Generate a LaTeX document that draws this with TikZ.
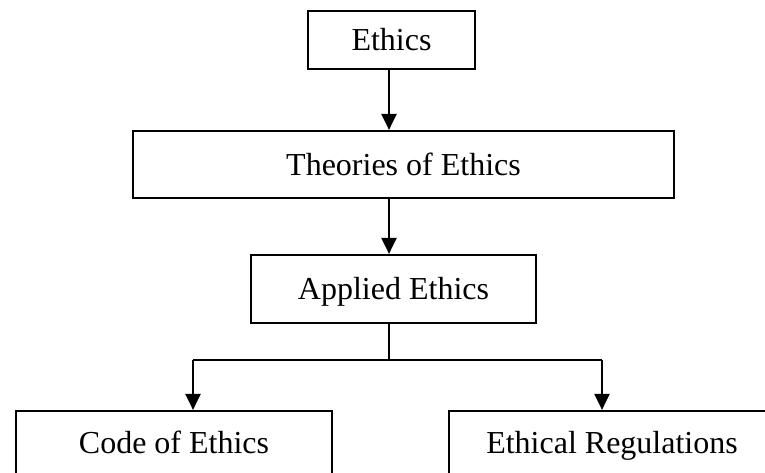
\documentclass[tikz,border=0pt]{standalone}
\usepackage{fontspec}
\setmainfont{Liberation Serif}
\usetikzlibrary{arrows.meta}
\tikzset{
  boxnode/.style={draw, line width=2.2pt, inner sep=0pt, text height=21.2pt, text depth=0pt, font=\fontsize{32}{38}\selectfont, text=black},
  arr/.style={line width=2.2pt, -{Triangle[length=16pt,width=15pt]}},
  plainline/.style={line width=2.2pt}
}
\begin{document}
\begin{tikzpicture}[x=1pt,y=-1pt]
\useasboundingbox (0,0) rectangle (765,473);
\clip (0,0) rectangle (765,473);
\fill[white] (0,0) rectangle (765,473);
\node[boxnode, minimum width=167pt, minimum height=58pt] (ethics) at (391.5,40) {Ethics};
\node[boxnode, minimum width=541pt, minimum height=67pt] (theories) at (403.5,164.5) {Theories of Ethics};
\node[boxnode, minimum width=285pt, minimum height=68pt] (applied) at (393.5,289) {Applied Ethics};
\node[boxnode, minimum width=316pt, minimum height=63pt] (code) at (174,442.5) {Code of Ethics};
\node[boxnode, minimum width=326pt, minimum height=63pt] (regs) at (612,442.5) {Ethical Regulations};
\coordinate (stem) at (389,0);
\coordinate (j) at (389,360);
\coordinate (jl) at (193,360);
\coordinate (jr) at (602,360);
\draw[arr] (ethics.south -| stem) -- (theories.north -| stem);
\draw[arr] (theories.south -| stem) -- (applied.north -| stem);
\draw[plainline] (applied.south -| stem) -- (j);
\draw[plainline] (jl) -- (jr);
\draw[arr] (jl) -- (code.north -| jl);
\draw[arr] (jr) -- (regs.north -| jr);
\end{tikzpicture}
\end{document}
